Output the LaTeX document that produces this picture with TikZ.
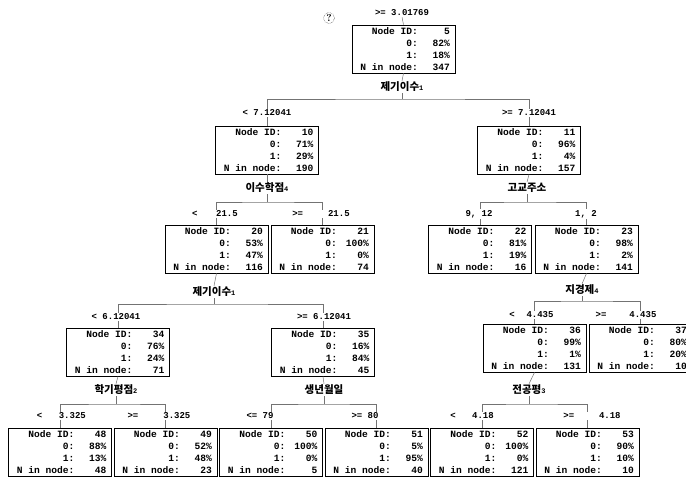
\documentclass[tikz,border=0pt]{standalone}
\usepackage{fontspec}
\newfontfamily\mono{Liberation Mono}
\newfontfamily\kr{Noto Sans CJK KR}
\newcommand\condfont{\fontsize{9bp}{10bp}\selectfont\mono\bfseries}
\newcommand\splitfont{\fontsize{10.5bp}{12bp}\selectfont\kr\bfseries}
\newcommand\dg[1]{{\fontsize{7bp}{8bp}\selectfont\mono\bfseries #1}}
\newcommand\nd[4]{\parbox{93bp}{\fontsize{9.6bp}{12bp}\selectfont\mono\bfseries
\makebox[61bp][r]{Node ID:}\makebox[32bp][r]{#1}\\
\makebox[61bp][r]{0:}\makebox[32bp][r]{#2}\\
\makebox[61bp][r]{1:}\makebox[32bp][r]{#3}\\
\makebox[61bp][r]{N in node:}\makebox[32bp][r]{#4}}}
\tikzset{
 box/.style={draw, line width=0.9bp, minimum width=103bp, minimum height=48bp, inner sep=0pt},
 cond/.style={font=\condfont, inner sep=1bp},
 split/.style={font=\splitfont, inner sep=1bp},
 conn/.style={line width=0.5bp, black!55},
}
\begin{document}
\begin{tikzpicture}[x=1bp,y=-1bp]
\useasboundingbox (0,0) rectangle (686,479);
% root
\node[circle, draw, densely dotted, inner sep=0.8bp, font=\fontsize{10bp}{11bp}\selectfont\bfseries] (q) at (329,18) {?};
\node[cond] (c5) at (402,13) {>= 3.01769};
\node[box] (n5) at (403.5,49) {\nd{5}{82\%}{18\%}{347}};
\node[split] (s5) at (402,87) {제기이수\dg{1}};
\coordinate (h5) at (402,99);
% level 1
\node[cond] (c10) at (267,113) {< 7.12041};
\node[cond] (c11) at (529,113) {>= 7.12041};
\node[box] (n10) at (267,150) {\nd{10}{71\%}{29\%}{190}};
\node[box] (n11) at (529,150) {\nd{11}{96\%}{4\%}{157}};
\node[split] (s10) at (267,188) {이수학점\dg{4}};
\node[split] (s11) at (527,188) {고교주소};
\coordinate (h10) at (267,202);
\coordinate (h11) at (527,202);
% level 2
\node[cond] (c20) at (215,214) {<\hspace{18.6bp}21.5};
\node[cond] (c21) at (321,214) {>=\hspace{25bp}21.5};
\node[cond] (c22) at (479,214) {9, 12};
\node[cond] (c23) at (586,214) {1, 2};
\node[box] (n20) at (216.5,249) {\nd{20}{53\%}{47\%}{116}};
\node[box] (n21) at (322.5,249) {\nd{21}{100\%}{0\%}{74}};
\node[box] (n22) at (480,249) {\nd{22}{81\%}{19\%}{16}};
\node[box] (n23) at (586.5,249) {\nd{23}{98\%}{2\%}{141}};
\node[split] (s20) at (214,292) {제기이수\dg{1}};
\node[split] (s23) at (582,290) {지경제\dg{4}};
\coordinate (h20) at (214,304);
\coordinate (h23) at (586.5,301);
% level 3
\node[cond] (c34) at (116,317) {< 6.12041};
\node[cond] (c35) at (324,317) {>= 6.12041};
\node[cond] (c36) at (531.4,315) {<\hspace{11.8bp}4.435};
\node[cond] (c37) at (626,315) {>=\hspace{23bp}4.435};
\node[box] (n34) at (118,352) {\nd{34}{76\%}{24\%}{71}};
\node[box] (n35) at (323,352) {\nd{35}{16\%}{84\%}{45}};
\node[box] (n36) at (534.5,348) {\nd{36}{99\%}{1\%}{131}};
\node[box] (n37) at (640.5,348) {\nd{37}{80\%}{20\%}{10}};
\node[split] (s34) at (116,390) {학기평점\dg{2}};
\node[split] (s35) at (324,390) {생년월일};
\node[split] (s36) at (529,390) {전공평\dg{3}};
\coordinate (h34) at (116,404);
\coordinate (h35) at (324,404);
\coordinate (h36) at (529,404);
% level 4
\node[cond] (c48) at (61.4,416) {<\hspace{16.5bp}3.325};
\node[cond] (c49) at (159,416) {>=\hspace{25bp}3.325};
\node[cond] (c50) at (260,416) {<= 79};
\node[cond] (c51) at (365,416) {>= 80};
\node[cond] (c52) at (472,416) {<\hspace{16.5bp}4.18};
\node[cond] (c53) at (592,416) {>=\hspace{24.8bp}4.18};
\node[box] (n48) at (60,452) {\nd{48}{88\%}{13\%}{48}};
\node[box] (n49) at (165.5,452) {\nd{49}{52\%}{48\%}{23}};
\node[box] (n50) at (271,452) {\nd{50}{100\%}{0\%}{5}};
\node[box] (n51) at (376.5,452) {\nd{51}{5\%}{95\%}{40}};
\node[box] (n52) at (482,452) {\nd{52}{100\%}{0\%}{121}};
\node[box] (n53) at (587.5,452) {\nd{53}{90\%}{10\%}{10}};
% connectors
\draw[conn] (c5.south) -- (n5.north);
\foreach \p/\s/\h/\a/\ca/\b/\cb in {n5/s5/h5/n10/c10/n11/c11, n10/s10/h10/n20/c20/n21/c21, n11/s11/h11/n22/c22/n23/c23, n20/s20/h20/n34/c34/n35/c35, n23/s23/h23/n36/c36/n37/c37, n34/s34/h34/n48/c48/n49/c49, n35/s35/h35/n50/c50/n51/c51, n36/s36/h36/n52/c52/n53/c53}{
  \draw[conn] (\p.south) -- (\s.north);
  \draw[conn] (\s.south) -- (\s.south |- \h);
  \draw[conn] (\a.north |- \ca.north) |- (\h) -| (\b.north |- \cb.north);
  \draw[conn] (\a.north |- \ca.south) -- (\a.north);
  \draw[conn] (\b.north |- \cb.south) -- (\b.north);
}
\end{tikzpicture}
\end{document}
